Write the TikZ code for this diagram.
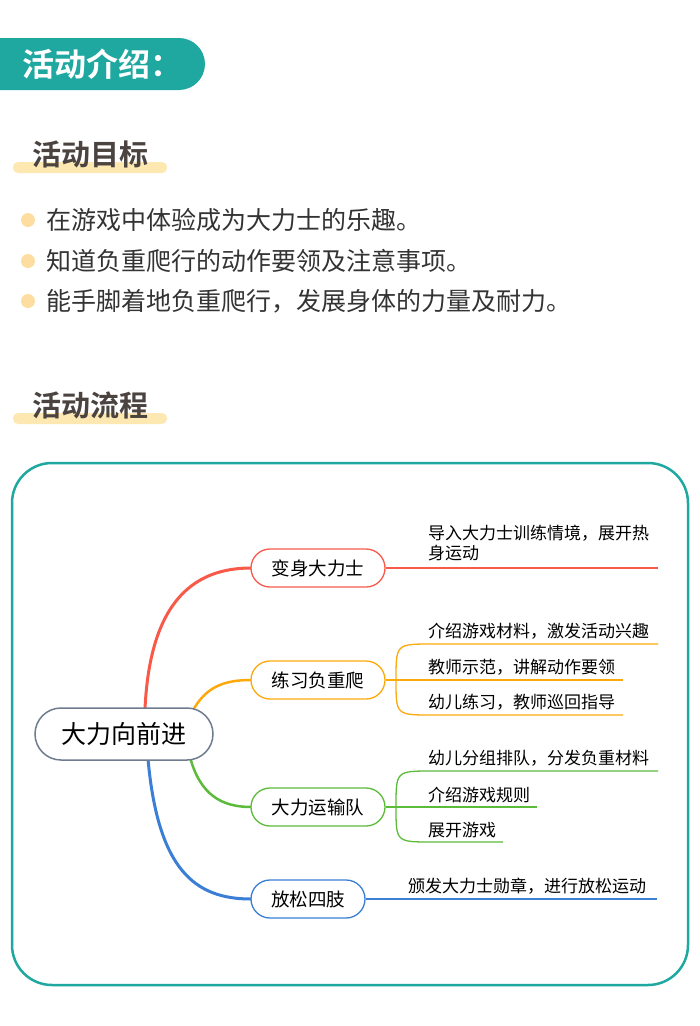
\documentclass[tikz,border=0pt]{standalone}
\usepackage{fontspec}
\setmainfont{Noto Sans CJK SC}
\newfontfamily\cjkb{Noto Sans CJK SC Bold}
\definecolor{teal1}{HTML}{1FA8A0}
\definecolor{ylw}{HTML}{FDE8B2}
\definecolor{txt}{HTML}{333333}
\definecolor{hd}{HTML}{4A4340}
\definecolor{cR}{HTML}{F85A4A}
\definecolor{cO}{HTML}{FCA90E}
\definecolor{cG}{HTML}{5DBB3C}
\definecolor{cB}{HTML}{3A7FD5}
\definecolor{cgray}{HTML}{6F7C8E}
\tikzset{
 branch/.style={draw=#1,line width=1.3pt,rounded corners=19pt,minimum height=38pt,inner xsep=8pt,font=\fontsize{18.5}{18.5}\selectfont,text=black,fill=white},
 sub/.style={anchor=south west,font=\fontsize{17}{20}\selectfont,text=black,align=left,inner sep=2pt},
 heading/.style={font=\cjkb\fontsize{29}{29}\selectfont,text=hd},
 bul/.style={font=\fontsize{25}{25}\selectfont,text=txt,anchor=west},
}
\begin{document}
\begin{tikzpicture}[x=1pt,y=-1pt]
\useasboundingbox (0,0) rectangle (700,1026);
\fill[white] (0,0) rectangle (700,1026);
% header
\fill[teal1] (0,38) -- (179,38) arc[start angle=-90,end angle=90,radius=26] -- (0,90) -- cycle;
\node[font=\cjkb\fontsize{32}{32}\selectfont,text=white] (hdr) at (103,64) {活动介绍：};
% headings
\fill[ylw,rounded corners=5pt] (13,162) rectangle (167,173);
\node[heading] (h1) at (90,154) {活动目标};
\fill[ylw,rounded corners=5pt] (13,413) rectangle (167,424);
\node[heading] (h2) at (90,405) {活动流程};
% bullets
\foreach \y/\t [count=\i] in {220/在游戏中体验成为大力士的乐趣。,261/知道负重爬行的动作要领及注意事项。,301/{能手脚着地负重爬行，发展身体的力量及耐力。}}{
 \fill[ylw!90!orange] (28,\y) circle (7);
 \node[bul] (b\i) at (43,\y) {\t};
}
% frame
\draw[teal1,line width=2.5pt,rounded corners=40pt] (12,463) rectangle (688,985);
% connectors first
\coordinate (cr) at (145,709);
\coordinate (co) at (192,712);
\coordinate (cg) at (190,757);
\coordinate (cb) at (148,759);
\draw[cR,line width=3pt] (cr) .. controls (150,600) and (195,568) .. (251,568);
\draw[cO,line width=2.5pt] (co) .. controls (205,688) and (222,680) .. (251,680);
\draw[cG,line width=2.5pt] (cg) .. controls (200,795) and (222,807) .. (251,807);
\draw[cB,line width=3pt] (cb) .. controls (158,870) and (195,899) .. (251,899);
% center
\node[draw=cgray,line width=1.5pt,fill=white,rounded corners=26pt,minimum width=178pt,minimum height=52pt,font=\fontsize{25}{25}\selectfont] (c) at (124,734) {大力向前进};
% branches
\node[branch=cR,minimum width=134pt] (n1) at (318,568) {变身大力士};
\node[branch=cO,minimum width=134pt] (n2) at (318,680) {练习负重爬};
\node[branch=cG,minimum width=134pt] (n3) at (318,807) {大力运输队};
\node[branch=cB,minimum width=114pt] (n4) at (308,899) {放松四肢};
% leaves
\coordinate (e1) at (658,568);
\draw[cR,line width=1.3pt] (n1.east) -- (e1);
\node[sub] (t1) at (426,563) {导入大力士训练情境，展开热\\身运动};
\coordinate (o0) at (396,680);
\coordinate (oa) at (658,644);\coordinate (ob) at (623,680);\coordinate (oc) at (623,715);
\draw[cO,line width=1.3pt] (n2.east) -- (o0) -- (ob);
\draw[cO,line width=1.3pt] (o0) .. controls (396,644) .. (432,644) -- (oa);
\draw[cO,line width=1.3pt] (o0) .. controls (396,715) .. (432,715) -- (oc);
\node[sub] (t2) at (426,642) {介绍游戏材料，激发活动兴趣};
\node[sub] (t3) at (426,678) {教师示范，讲解动作要领};
\node[sub] (t4) at (426,713) {幼儿练习，教师巡回指导};
\coordinate (g0) at (396,807);
\coordinate (ga) at (658,771);\coordinate (gb) at (537,807);\coordinate (gc) at (503,842);
\draw[cG,line width=1.3pt] (n3.east) -- (g0) -- (gb);
\draw[cG,line width=1.3pt] (g0) .. controls (396,771) .. (432,771) -- (ga);
\draw[cG,line width=1.3pt] (g0) .. controls (396,842) .. (432,842) -- (gc);
\node[sub] (t5) at (426,769) {幼儿分组排队，分发负重材料};
\node[sub] (t6) at (426,805) {介绍游戏规则};
\node[sub] (t7) at (426,840) {展开游戏};
\coordinate (e4) at (657,899);
\draw[cB,line width=1.3pt] (n4.east) -- (e4);
\node[sub] (t8) at (406,897) {颁发大力士勋章，进行放松运动};
\end{tikzpicture}
\end{document}
